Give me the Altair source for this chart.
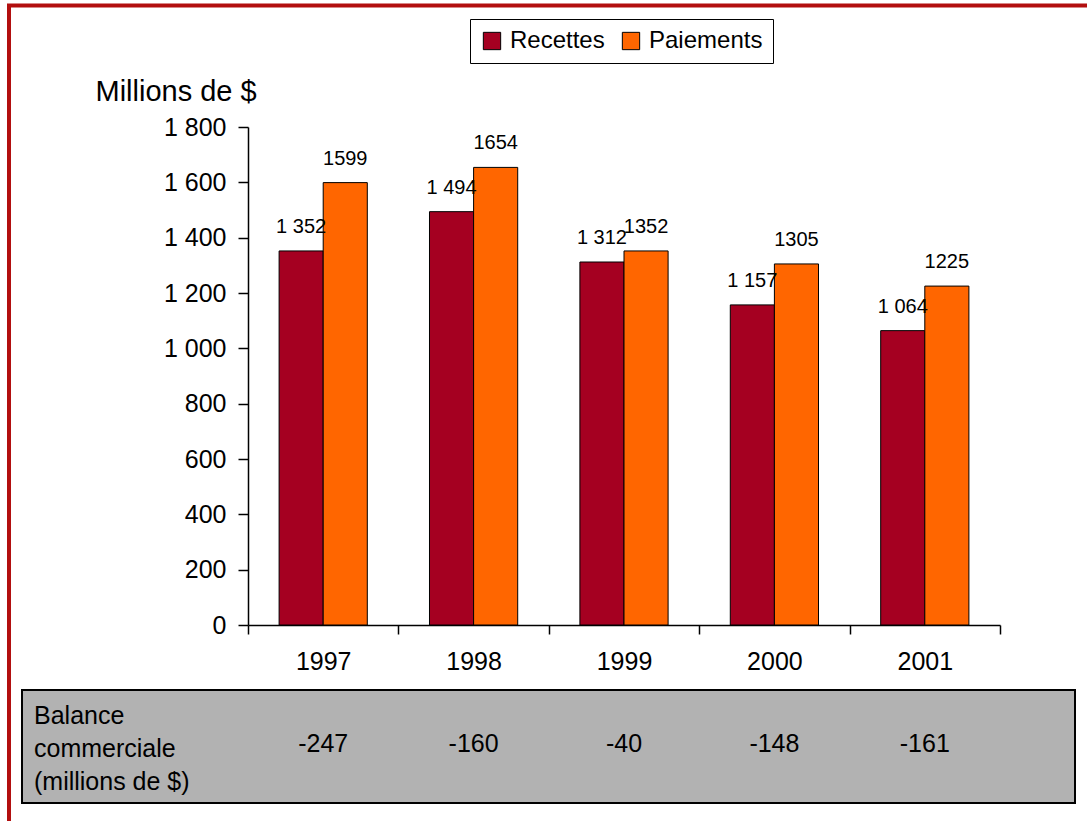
import altair as alt
import pandas as pd

FONT = "Liberation Sans"

# Données (millions de $)
years = ["1997", "1998", "1999", "2000", "2001"]
recettes = [1352, 1494, 1312, 1157, 1064]
paiements = [1599, 1654, 1352, 1305, 1225]
balance = [-247, -160, -40, -148, -161]

series = ["Recettes", "Paiements"]
colors = ["#A50021", "#FF6600"]
y_ticks = [0, 200, 400, 600, 800, 1000, 1200, 1400, 1600, 1800]
table_lines = ["Balance", "commerciale", "(millions de $)"]

rows = []
for i, yr in enumerate(years):
    rows.append({"annee": yr, "serie": "Recettes", "valeur": recettes[i],
                 "etiquette": f"{recettes[i]:,}".replace(",", " ")})
    rows.append({"annee": yr, "serie": "Paiements", "valeur": paiements[i],
                 "etiquette": f"{paiements[i]}"})
bars_df = pd.DataFrame(rows)
table_df = pd.DataFrame({"annee": years, "balance": [str(b) for b in balance]})
one = pd.DataFrame({"k": [0]})

# Bands fill each category slot, so ticks at band extents sit between years
x_enc = alt.X(
    "annee:N",
    sort=years,
    scale=alt.Scale(paddingInner=0, paddingOuter=0),
    axis=alt.Axis(title=None, labelAngle=0, labelAlign="center",
                  tickBand="extent", tickSize=9,
                  labelPadding=27, labelFontSize=25, domainWidth=1.5,
                  tickWidth=1.5),
)
y_enc = alt.Y(
    "valeur:Q",
    scale=alt.Scale(domain=[0, 1800], nice=False),
    axis=alt.Axis(
        values=y_ticks,
        labelExpr="replace(format(datum.value, ','), ',', ' ')",
        tickSize=10, labelPadding=12, labelFontSize=25,
        domainWidth=1.5, tickWidth=1.5,
        title="Millions de $", titleAngle=0, titleAlign="left",
        titleBaseline="alphabetic", titleX=-153, titleY=-27,
        titleFontSize=29, titleFontWeight="normal",
    ),
)
# The pair of bars takes up the middle of each slot
xoff = alt.XOffset("serie:N", sort=series,
                   scale=alt.Scale(domain=series, paddingInner=0, paddingOuter=0.705))

bars = alt.Chart(bars_df).mark_bar(stroke="black", strokeWidth=1).encode(
    x=x_enc,
    xOffset=xoff,
    y=y_enc,
    color=alt.Color(
        "serie:N",
        sort=series,
        scale=alt.Scale(domain=series, range=colors),
        legend=alt.Legend(
            title=None, orient="none", direction="horizontal",
            legendX=222, legendY=-108, padding=10,
            strokeColor="black", fillColor="white",
            symbolType="square", symbolSize=300,
            symbolStrokeColor="black", symbolStrokeWidth=1,
            symbolOpacity=1, labelFontSize=24, labelFont=FONT,
            labelColor="black", labelOffset=6, columnPadding=14,
        ),
    ),
)

labels = alt.Chart(bars_df).mark_text(
    font=FONT, fontSize=20, color="black", baseline="alphabetic",
    align="center", dy=-18,
).encode(x=alt.X("annee:N", sort=years), xOffset=xoff, y="valeur:Q",
         text="etiquette:N")

# Tableau de la balance commerciale sous l'axe des années
table_bg = alt.Chart(one).mark_rect(
    fill="#B2B2B2", stroke="black", strokeWidth=2
).encode(x=alt.value(-226), x2=alt.value(827), y=alt.value(563), y2=alt.value(676))

table_title = alt.Chart(one).mark_text(
    font=FONT, fontSize=25, color="black", align="left",
    baseline="alphabetic", lineHeight=33,
).encode(x=alt.value(-214), y=alt.value(597), text=alt.value(table_lines))

table_vals = alt.Chart(table_df).mark_text(
    font=FONT, fontSize=25, color="black", align="center", baseline="alphabetic",
).encode(x=alt.X("annee:N", sort=years), y=alt.value(625), text="balance:N")

# Cadre rouge (haut et gauche)
frame_top = alt.Chart(one).mark_rule(color="#B20F0F", strokeWidth=4).encode(
    x=alt.value(-241), x2=alt.value(839), y=alt.value(-121.5))
frame_left = alt.Chart(one).mark_rule(color="#B20F0F", strokeWidth=4).encode(
    x=alt.value(-239), y=alt.value(-123), y2=alt.value(694))

chart = alt.layer(
    table_bg, table_title, table_vals, bars, labels, frame_top, frame_left
).properties(
    width=752, height=498,
    autosize=alt.AutoSizeParams(type="none"),
    padding={"left": 248, "top": 127, "right": 87, "bottom": 196},
    background="white",
).configure_view(stroke=None).configure_axis(
    grid=False, domainColor="black", tickColor="black", labelColor="black",
    labelFont=FONT, titleFont=FONT, titleColor="black",
)

chart.save("out.html", embed_options={"renderer": "svg", "actions": False})
